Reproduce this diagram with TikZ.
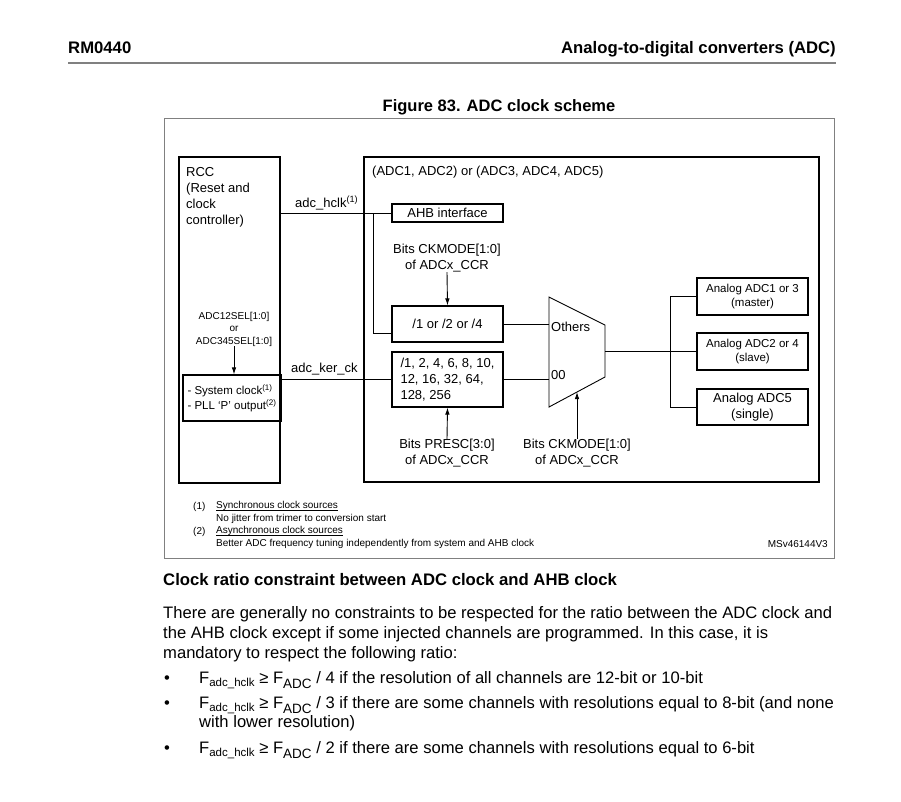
\documentclass[tikz,border=0pt]{standalone}
\usepackage{fontspec}
\setmainfont{Liberation Sans}
\usetikzlibrary{positioning,calc,arrows.meta}

\newcommand{\subhclk}{\raisebox{-3.5pt}{\fontsize{11.5}{11.5}\selectfont adc\_hclk}}
\newcommand{\subadc}{\raisebox{-5pt}{\fontsize{13.5}{13.5}\selectfont ADC}}
\newcommand{\ulfn}[1]{\setbox0\hbox{#1}\rlap{\rule[-1.6pt]{\wd0}{0.6pt}}#1}

\begin{document}
\begin{tikzpicture}[x=1pt,y=-1pt,
  blk/.style={draw, rectangle, line width=1.1pt, inner sep=0pt},
  lbl/.style={inner sep=0pt, font=\fontsize{13}{16}\selectfont},
  small/.style={inner sep=0pt, font=\fontsize{10}{12.5}\selectfont},
  wire/.style={line width=0.9pt},
  arr/.style={wire, -{Latex[length=7pt,width=4.5pt]}},
  body/.style={inner sep=0pt, anchor=base west, font=\fontsize{16.6}{20}\selectfont}]
\useasboundingbox (0,0) rectangle (901,801);
\fill[white] (0,0) rectangle (901,801);

\node[body, font=\bfseries\fontsize{16.7}{20}\selectfont] (hdl) at (68,53) {RM0440};
\node[body, anchor=base east, font=\bfseries\fontsize{16.7}{20}\selectfont] (hdr) at (836,53) {Analog-to-digital converters (ADC)};
\draw[gray, line width=1.2pt] (hdl.west |- 0,63) -- (hdr.east |- 0,63);
\node[body, anchor=base, font=\bfseries\fontsize{16.5}{20}\selectfont] (title) at (499,111) {Figure 83. ADC clock scheme};
\node[draw=gray, rectangle, inner sep=0pt, minimum width=670, minimum height=440] (frame) at (499,338) {};

\node[blk, minimum width=101, minimum height=326] (rcc) at (229.5,320) {};
\node[lbl, anchor=west, align=left] (rcctxt) at (186,197) {RCC\\(Reset and\\clock\\controller)};
\node[blk, minimum width=455, minimum height=325] (adc) at (591.5,319.5) {};
\node[lbl, anchor=west] (adctxt) at (372,172) {(ADC1, ADC2) or (ADC3, ADC4, ADC5)};

\node[blk, lbl, minimum width=111, minimum height=18] (ahb) at (447.5,213) {AHB interface};
\node[lbl, anchor=west] (hclk) at (295,203) {adc\_hclk\textsuperscript{(1)}};
\node[lbl, align=center] (ckm1) at (447,258) {Bits CKMODE[1:0]\\of ADCx\_CCR};
\node[blk, lbl, minimum width=111, minimum height=36] (div) at (447.5,324) {/1 or /2 or /4};
\node[blk, lbl, align=left, minimum width=111, minimum height=55] (psc) at (447.5,379.5) {/1, 2, 4, 6, 8, 10,\\12, 16, 32, 64,\\128, 256};
\node[lbl, align=center] (prs) at (447,453) {Bits PRESC[3:0]\\of ADCx\_CCR};
\node[lbl, align=center] (ckm2) at (577,453) {Bits CKMODE[1:0]\\of ADCx\_CCR};

\coordinate (mtl) at (549,297);
\coordinate (mtr) at (605,325);
\coordinate (mbr) at (605,377);
\coordinate (mbl) at (549,407);
\coordinate (mout) at (605,351.5);
\coordinate (mck) at (577,392);
\draw[wire] (mtl) -- (mtr) -- (mbr) -- (mbl) -- cycle;
\node[lbl, anchor=west] (oth) at (551,327) {Others};
\node[lbl, anchor=west] (zz) at (551,375) {00};

\node[blk, align=left, minimum width=98, minimum height=46, font=\fontsize{11.5}{15}\selectfont] (sys) at (232,398) {- System clock\textsuperscript{(1)}\\- PLL ‘P’ output\textsuperscript{(2)}};
\node[small, align=center] (sel) at (234,329) {ADC12SEL[1:0]\\or\\ADC345SEL[1:0]};
\node[lbl, anchor=west] (kerck) at (291,369) {adc\_ker\_ck};

\node[blk, align=center, minimum width=111, minimum height=37, font=\fontsize{11.5}{14}\selectfont] (an1) at (752.5,296.5) {Analog ADC1 or 3\\(master)};
\node[blk, align=center, minimum width=111, minimum height=37, font=\fontsize{11.5}{14}\selectfont] (an2) at (752.5,351.5) {Analog ADC2 or 4\\(slave)};
\node[blk, align=center, minimum width=111, minimum height=36, font=\fontsize{13}{16}\selectfont] (an5) at (752.5,407) {Analog ADC5\\(single)};
\coordinate (bus) at (670,351.5);
\coordinate (tap) at (373,213);

\draw[wire] (rcc.east |- ahb.west) -- (ahb.west);
\draw[wire] (tap) |- ([yshift=-9pt]div.west);
\draw[arr] (ckm1.south) -- (div.north);
\draw[wire] (rcc.east |- psc.west) -- (psc.west);
\draw[arr] (sel.south) -- (sel.south |- sys.north);
\draw[wire] (div.east) -- (div.east -| mtl);
\draw[wire] (psc.east) -- (psc.east -| mtl);
\draw[arr] (prs.north) -- (psc.south);
\draw[arr] (ckm2.north) -- (mck);
\draw[wire] (mout) -- (an2.west);
\draw[wire] (an1.west) -| (bus) |- (an5.west);

\node[small, anchor=base west] (n1) at (193,509) {(1)};
\node[small, anchor=base west, align=left] (fn1) at (216,521) {\ulfn{Synchronous clock sources}\\No jitter from trimer to conversion start};
\node[small, anchor=base west] (n2) at (193,534) {(2)};
\node[small, anchor=base west, align=left] (fn2) at (216,546) {\ulfn{Asynchronous clock sources}\\Better ADC frequency tuning independently from system and AHB clock};
\node[small, anchor=base east] (msv) at (828,547) {MSv46144V3};

\node[body, font=\bfseries\fontsize{16.7}{20}\selectfont] (head) at (163,585) {Clock ratio constraint between ADC clock and AHB clock};
\node[body, align=left] (para) at (163,658) {There are generally no constraints to be respected for the ratio between the ADC clock and\\the AHB clock except if some injected channels are programmed. In this case, it is\\mandatory to respect the following ratio:};
\node[body] (b1) at (164,683) {•};
\node[body] (b2) at (164,708) {•};
\node[body] (b3) at (164,753) {•};
\node[body] (t1) at (199,683) {F\subhclk{} ≥ F\subadc{} / 4 if the resolution of all channels are 12-bit or 10-bit};
\node[body, align=left, font=\fontsize{16.6}{19.5}\selectfont] (t2) at (199,727.5) {F\subhclk{} ≥ F\subadc{} / 3 if there are some channels with resolutions equal to 8-bit (and none\\with lower resolution)};
\node[body] (t3) at (199,753) {F\subhclk{} ≥ F\subadc{} / 2 if there are some channels with resolutions equal to 6-bit};
\end{tikzpicture}
\end{document}
